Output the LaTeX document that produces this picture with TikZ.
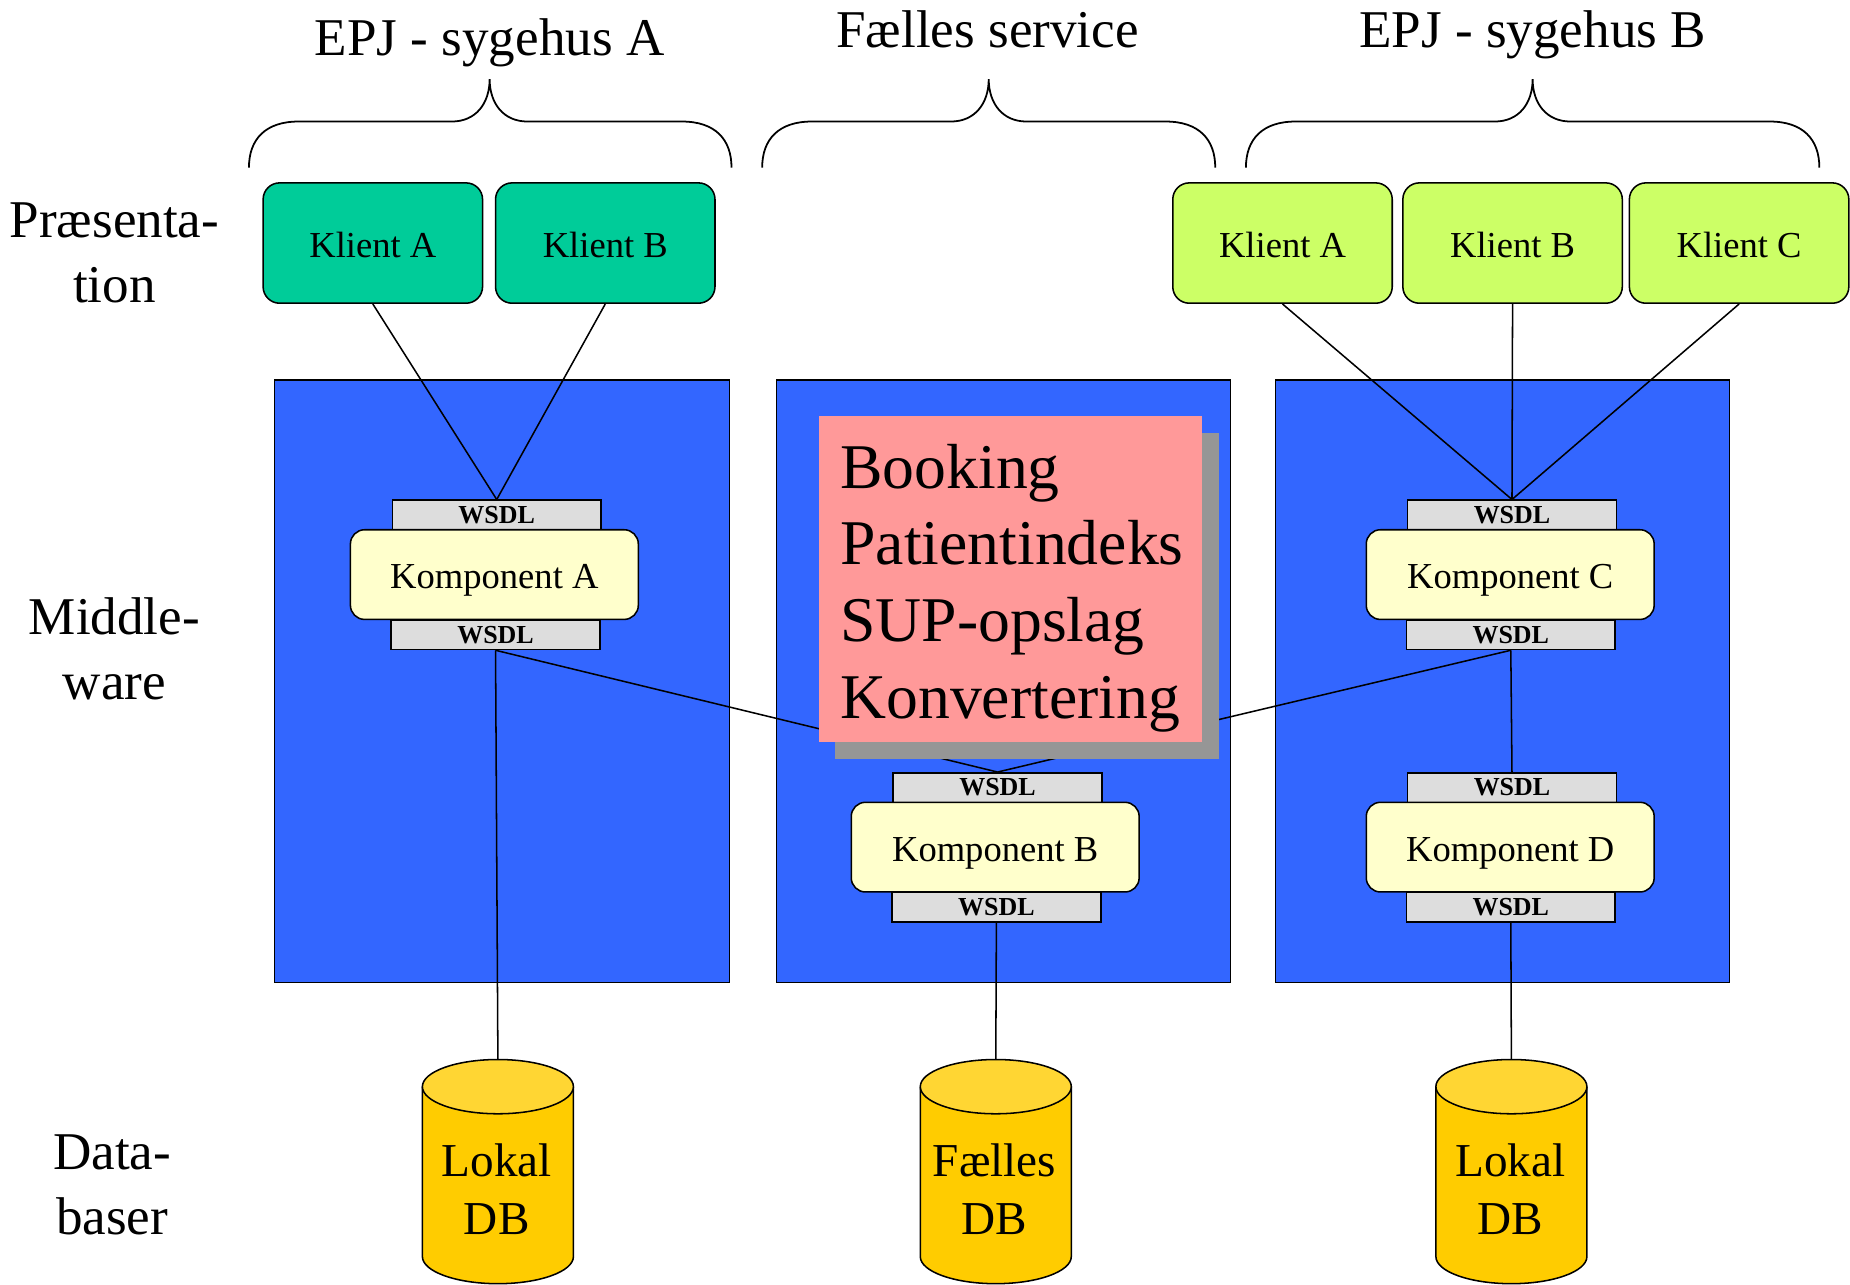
\documentclass[tikz,border=0pt]{standalone}
\usepackage{fontspec}
\setmainfont{Liberation Serif}
\usetikzlibrary{shadows}
\definecolor{cliteal}{HTML}{00CC99}
\definecolor{clilime}{HTML}{CCFF66}
\definecolor{panelblue}{HTML}{3366FF}
\definecolor{svcpink}{HTML}{FF9999}
\definecolor{shadowgray}{HTML}{969696}
\definecolor{kompyellow}{HTML}{FFFFCC}
\definecolor{wsdlgray}{HTML}{DDDDDD}
\definecolor{dbbody}{HTML}{FFCC00}
\definecolor{dbtop}{HTML}{FFD633}
\pgfdeclarelayer{back}
\pgfdeclarelayer{mid}
\pgfsetlayers{back,mid,main}
\newcommand\mybrace[3]{%
  \draw[brace] (#1,142) .. controls (#1,118) and (#1+14,103) .. (#1+42,103) -- (#2-32,103)
    .. controls (#2-12,103) and (#2,88) .. (#2,67)
    .. controls (#2,88) and (#2+12,103) .. (#2+32,103) -- (#3-42,103)
    .. controls (#3-14,103) and (#3,118) .. (#3,142);}
\newcommand\mydbcyl[1]{%
  \fill[dbbody] (#1-64,921) -- (#1-64,1065) arc[start angle=180,end angle=0,x radius=64,y radius=23] -- (#1+64,921) -- cycle;
  \draw[line width=1.3pt] (#1-64,921) -- (#1-64,1065) arc[start angle=180,end angle=0,x radius=64,y radius=23] -- (#1+64,921);
  \filldraw[fill=dbtop,line width=1.3pt] (#1,921) ellipse[x radius=64,y radius=23];}
\begin{document}
\begin{tikzpicture}[x=1pt,y=-1pt,
  title/.style={font=\fontsize{45}{54}\selectfont,inner sep=0pt,anchor=base},
  side/.style={font=\fontsize{45}{55}\selectfont,inner sep=0pt,align=center},
  brace/.style={line width=1.5pt},
  client/.style={draw,rounded corners=14pt,line width=1.3pt,minimum width=186pt,minimum height=102pt,inner sep=0pt,text height=24pt,text depth=0pt,font=\fontsize{31}{37}\selectfont},
  cliA/.style={client,fill=cliteal},
  cliB/.style={client,fill=clilime},
  panel/.style={draw,fill=panelblue,line width=1pt,minimum width=385pt,minimum height=511pt,inner sep=0pt},
  wsdl/.style={draw,fill=wsdlgray,line width=1.3pt,minimum width=177pt,minimum height=25pt,inner sep=0pt,font=\fontsize{22}{24}\selectfont\bfseries},
  komp/.style={draw,fill=kompyellow,rounded corners=12pt,line width=1.3pt,minimum width=244pt,minimum height=76pt,inner sep=0pt,text height=24pt,text depth=0pt,font=\fontsize{31}{37}\selectfont},
  svc/.style={fill=svcpink,minimum width=325pt,minimum height=276pt,inner sep=0pt,
    drop shadow={shadow xshift=14pt,shadow yshift=-14pt,fill=shadowgray,opacity=1}},
  svctext/.style={inner sep=0pt,anchor=north west,text width=300pt,align=left,font=\fontsize{54}{65}\selectfont},
  dbtext/.style={inner sep=0pt,align=center,font=\fontsize{40}{49}\selectfont},
  conn/.style={line width=1.3pt}]
\useasboundingbox (0,0) rectangle (1568,1089);

% titles and braces
\node[title] (tA) at (415,47) {EPJ - sygehus A};
\node[title] (tS) at (837,40) {Fælles service};
\node[title] (tB) at (1299,40) {EPJ - sygehus B};
\mybrace{211}{415}{620}
\mybrace{646}{838}{1030}
\mybrace{1056}{1299}{1542}

% side labels
\node[side] (lP) at (97,214) {Præsenta-\\tion};
\node[side] (lM) at (97,550) {Middle-\\ware};
\node[side] (lD) at (95,1004) {Data-\\baser};

% panels
\begin{pgfonlayer}{back}
\node[panel] (pA) at (425.5,577.5) {};
\node[panel] (pS) at (850.5,577.5) {};
\node[panel] (pB) at (1273.5,577.5) {};
\end{pgfonlayer}

% clients
\node[cliA] (ka) at (316,206) {Klient A};
\node[cliA] (kb) at (513,206) {Klient B};
\node[cliB] (kA) at (1087,206) {Klient A};
\node[cliB] (kB) at (1282,206) {Klient B};
\node[cliB] (kC) at (1474,206) {Klient C};

% shared services box
\node[svc] (svc) at (856.5,491) {};
\node[svctext] (svct) at (712,376) {Booking\\Patientindeks\\SUP-opslag\\Konvertering};

% components
\node[wsdl] (wA1) at (421,436.5) {WSDL};
\node[wsdl] (wA2) at (420,538) {WSDL};
\node[komp] (cA) at (419,487) {Komponent A};
\node[wsdl] (wC1) at (1281.5,436.5) {WSDL};
\node[wsdl] (wC2) at (1280.5,538) {WSDL};
\node[komp] (cC) at (1280,487) {Komponent C};
\node[wsdl] (wB1) at (845.5,667.5) {WSDL};
\node[wsdl] (wB2) at (844.5,769) {WSDL};
\node[komp] (cB) at (843.5,718) {Komponent B};
\node[wsdl] (wD1) at (1281.5,667.5) {WSDL};
\node[wsdl] (wD2) at (1280.5,769) {WSDL};
\node[komp] (cD) at (1280,718) {Komponent D};

% databases
\mydbcyl{422}
\mydbcyl{844}
\mydbcyl{1281}
\coordinate (db1) at (422,898);
\coordinate (db2) at (844,898);
\coordinate (db3) at (1281,898);
\node[dbtext] (d1) at (421,1008) {Lokal\\DB};
\node[dbtext] (d2) at (843,1008) {Fælles\\DB};
\node[dbtext] (d3) at (1280,1008) {Lokal\\DB};

% connectors
\begin{pgfonlayer}{mid}
\draw[conn] (ka.south) -- (wA1.north);
\draw[conn] (kb.south) -- (wA1.north);
\draw[conn] (kA.south) -- (wC1.north);
\draw[conn] (kB.south) -- (wC1.north);
\draw[conn] (kC.south) -- (wC1.north);
\draw[conn] (wA2.south) -- (db1);
\draw[conn] (wA2.south) -- (wB1.north);
\draw[conn] (wC2.south) -- (wB1.north);
\draw[conn] (wC2.south) -- (wD1.north);
\draw[conn] (wB2.south) -- (db2);
\draw[conn] (wD2.south) -- (db3);
\end{pgfonlayer}
\end{tikzpicture}
\end{document}
